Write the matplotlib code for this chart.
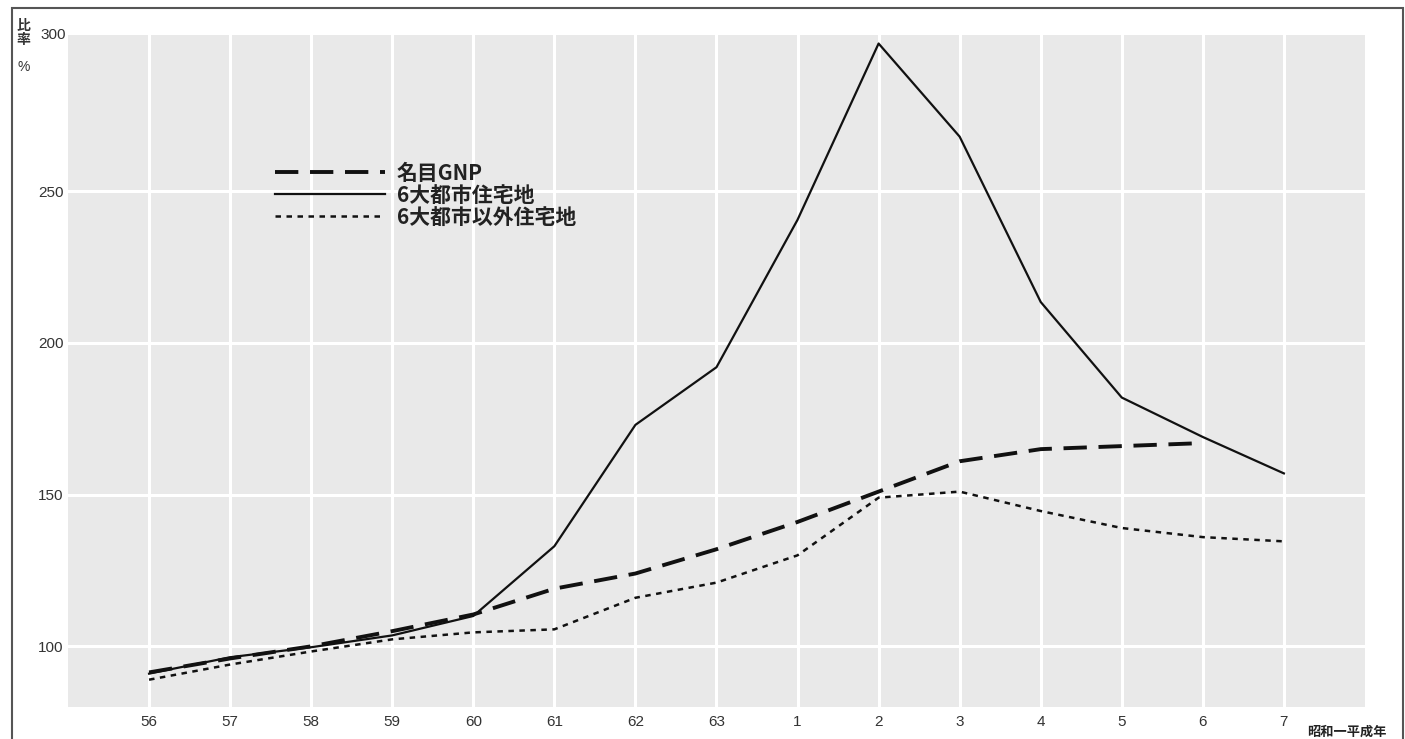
import numpy as np
import matplotlib
matplotlib.use('Agg')
import matplotlib.pyplot as plt
from matplotlib.patches import Rectangle

plt.rcParams['font.family'] = ['Noto Sans CJK JP', 'DejaVu Sans']

# data
years = ['56', '57', '58', '59', '60', '61', '62', '63',
         '1', '2', '3', '4', '5', '6', '7']
gnp = [91.4, 96, 100, 105, 110.5, 119, 124, 132, 141, 151, 161, 165, 166, 167]
big6 = [91, 96.4, 99.7, 103.6, 110, 133, 173, 192, 240.6, 298.7,
        268, 213.5, 182, 169, 157]
other = [89, 94, 98.3, 102.3, 104.6, 105.6, 116, 121, 130, 149,
         151, 144.6, 139, 136, 134.6]
yticks = [100, 150, 200, 250, 300]
labels = ['名目GNP', '6大都市住宅地', '6大都市以外住宅地']

num_font = ['Liberation Sans', 'DejaVu Sans']


def main():
    fig = plt.figure(figsize=(14.05, 7.39), dpi=100)
    ax = fig.add_axes([0.0484, 0.0433, 0.9231, 0.9093])

    # outer frame
    fig.patches.append(Rectangle((12/1405, -0.05), 1391/1405, 1.05 - 8/739,
                                 transform=fig.transFigure, fill=False,
                                 ec='#555555', lw=1.5))

    ax.set_facecolor('#e9e9e9')
    for s in ax.spines.values():
        s.set_visible(False)

    x = np.arange(len(years))
    ax.plot(x[:len(gnp)], gnp, color='#111111', lw=2.8, ls=(0, (6, 3)),
            label=labels[0])
    ax.plot(x, big6, color='#111111', lw=1.6, label=labels[1])
    ax.plot(x, other, color='#111111', lw=1.8, ls=(0, (2.2, 2.2)),
            label=labels[2])

    ax.set_xlim(-1, 15)
    ax.set_ylim(80, 301.5)
    ax.set_xticks(x)
    ax.set_xticklabels(years, fontsize=11, color='#333333', family=num_font)
    ax.set_yticks(yticks[:-1])
    ax.set_yticklabels([str(v) for v in yticks[:-1]], fontsize=11,
                       color='#333333', family=num_font)
    ax.tick_params(axis='x', length=0, pad=6)
    ax.tick_params(axis='y', length=0, pad=3)
    ax.grid(True, color='white', lw=2.2)
    ax.set_axisbelow(True)

    fig.text(40/1405, 1 - 35/739, '300', fontsize=11, color='#333333',
             ha='left', va='center', family=num_font)
    # stacked vertical label
    fig.text(23/1405, 1 - 26/739, '比', fontsize=10, color='#333333',
             ha='center', va='center', fontweight='bold')
    fig.text(23/1405, 1 - 40/739, '率', fontsize=10, color='#333333',
             ha='center', va='center', fontweight='bold')
    fig.text(24/1405, 1 - 67/739, '%', fontsize=10, color='#333333',
             ha='center', va='center', family=num_font)
    fig.text(1387/1405, 1 - 732/739, '昭和一平成年', fontsize=9.5,
             color='#222222', ha='right', va='center', fontweight='bold')

    leg = ax.legend(loc='upper left', bbox_to_anchor=(0.145, 0.838),
                    frameon=False, handlelength=5.3, handletextpad=0.55,
                    labelspacing=0.05, prop={'size': 15, 'weight': 'bold'})
    for t in leg.get_texts():
        t.set_color('#222222')

    fig.savefig('out.png', dpi=100, facecolor='white')


if __name__ == '__main__':
    main()
